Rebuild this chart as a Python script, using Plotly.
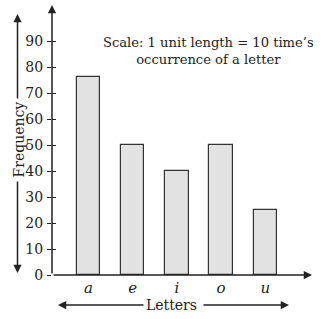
import plotly.graph_objects as go

letters = ["a", "e", "i", "o", "u"]
frequency = [76, 50, 40, 50, 25]
y_ticks = [0, 10, 20, 30, 40, 50, 60, 70, 80, 90]

W, H = 323, 319
L, R, T, B = 52, 13, 5, 44
PW, PH = W - L - R, H - T - B

def px(x):
    return (x - L) / PW

def py(y):
    return (H - B - y) / PH

FONT = "DejaVu Serif"
INK = "#222222"

fig = go.Figure()
fig.add_trace(go.Bar(
    x=list(range(len(letters))), y=frequency, width=0.53,
    marker=dict(color="#e2e2e2", line=dict(color="#333333", width=1.2)),
    showlegend=False, hoverinfo="skip"))

ann = []
def arrow(hx, hy, tx, ty):
    ann.append(dict(x=px(hx), y=py(hy), xref="paper", yref="paper",
                    ax=tx - hx, ay=ty - hy, axref="pixel", ayref="pixel",
                    showarrow=True, arrowhead=2, arrowsize=1.1, arrowwidth=1.5,
                    arrowcolor=INK, text=""))

def label(x, y, text, size, angle=0):
    ann.append(dict(x=px(x), y=py(y), xref="paper", yref="paper", text=text,
                    textangle=angle, showarrow=False, xanchor="center", yanchor="middle",
                    align="center", font=dict(family=FONT, size=size, color=INK)))

# main axes
arrow(52, 5, 52, 275)
arrow(312, 275, 52, 275)
# Frequency arrows
arrow(17.5, 14, 17.5, 100)
arrow(17.5, 273, 17.5, 180)
# Letters arrows
arrow(58, 305, 145, 305)
arrow(289, 305, 202, 305)

label(18, 139.5, "Frequency", 14, -90)
label(171, 305, "Letters", 14)
label(208, 51, "Scale: 1 unit length = 10 time’s<br>occurrence of a letter", 13.1)

fig.update_layout(
    width=W, height=H, margin=dict(l=L, r=R, t=T, b=B),
    paper_bgcolor="white", plot_bgcolor="white",
    bargap=0,
    annotations=ann,
    xaxis=dict(range=[-(88.5 - L) / 44.2, (W - R - 88.5) / 44.2],
               tickmode="array", tickvals=list(range(len(letters))),
               ticktext=["<i>%s</i>" % s for s in letters],
               showgrid=False, zeroline=False, showline=False, ticks="",
               tickfont=dict(family=FONT, size=15, color=INK), ticklabelstandoff=2),
    yaxis=dict(range=[0, PH / 2.6], tickmode="array", tickvals=y_ticks,
               showgrid=False, zeroline=False, showline=False,
               ticks="outside", ticklen=4, tickwidth=1.3, tickcolor=INK,
               tickfont=dict(family=FONT, size=14, color=INK), ticklabelstandoff=1),
    yaxis2=dict(range=[0, PH / 2.6], overlaying="y", tickmode="array",
                tickvals=y_ticks[1:], showticklabels=False, showgrid=False,
                zeroline=False, showline=False, ticks="inside", ticklen=4,
                tickwidth=1.3, tickcolor=INK),
)
fig.add_trace(go.Scatter(x=[0], y=[0], yaxis="y2", mode="markers",
                         marker=dict(opacity=0), showlegend=False, hoverinfo="skip"))
fig.write_html("out.html")
